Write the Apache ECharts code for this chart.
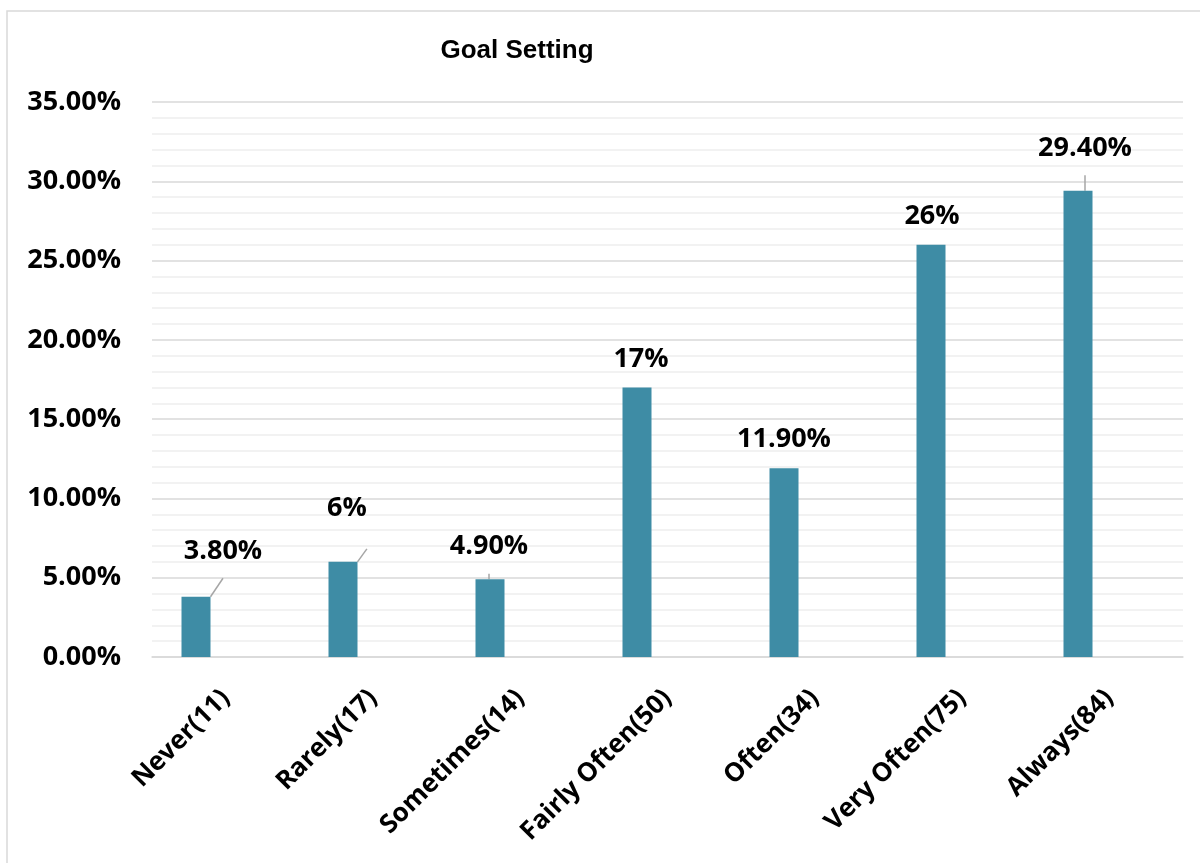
<!DOCTYPE html>
<html>
<head>
<meta charset="utf-8">
<script src="https://cdn.jsdelivr.net/npm/echarts@6/dist/echarts.min.js"></script>
<style>
  html, body { margin: 0; padding: 0; background: #ffffff; }
  #chart { width: 1200px; height: 863px; }
</style>
</head>
<body>
<div id="chart"></div>
<script>
// Response categories (with respondent counts) and their share in percent
const categories = ['Never(11)', 'Rarely(17)', 'Sometimes(14)', 'Fairly Often(50)', 'Often(34)', 'Very Often(75)', 'Always(84)'];
const shares = [3.8, 6, 4.9, 17, 11.9, 26, 29.4];
const valueLabels = ['3.80%', '6%', '4.90%', '17%', '11.90%', '26%', '29.40%'];
const yTicks = [0, 5, 10, 15, 20, 25, 30, 35];

// Label displacement for the callouts that use a leader line: [dx, dy, leader]
const labelShift = [[27, -17, true], [4, -25, true], [-1, -4, true], [4, 0, false], [0, 0, false], [1, 0, false], [7, -14, true]];

const FONT = '"Open Sans", "DejaVu Sans", sans-serif';
const GRID_TOP = 102, GRID_H = 555;

const chart = echarts.init(document.getElementById('chart'), null, { renderer: 'canvas' });

const barData = shares.map((v, i) => ({
  value: v,
  label: { offset: [labelShift[i][0], labelShift[i][1]] },
  labelLine: { show: labelShift[i][2] }
}));

chart.setOption({
  animation: false,
  backgroundColor: '#ffffff',
  graphic: [{
    type: 'rect',
    shape: { x: 7, y: 11, width: 1220, height: 900 },
    style: { fill: 'none', stroke: '#d9d9d9', lineWidth: 1.5 },
    silent: true, z: -10
  }],
  title: {
    text: 'Goal Setting',
    left: 512, top: 33, textAlign: 'center',
    textStyle: { fontFamily: '"Liberation Sans", Arial, sans-serif', fontWeight: 'bold', fontSize: 26, color: '#000' }
  },
  grid: [
    { left: 122.5, width: 1029, top: GRID_TOP, height: GRID_H },
    { left: 152, width: 1031, top: GRID_TOP, height: GRID_H }
  ],
  xAxis: [
    { type: 'category', gridIndex: 0, data: categories, show: false },
    {
      type: 'category', gridIndex: 1, data: categories,
      axisLine: { lineStyle: { color: '#d9d9d9', width: 1.5 } },
      axisTick: { show: false },
      axisLabel: {
        rotate: 45, margin: 37, interval: 0,
        fontFamily: FONT, fontWeight: 'bold', fontSize: 26, color: '#000'
      }
    }
  ],
  yAxis: [
    { type: 'value', gridIndex: 0, min: 0, max: 35, interval: 5, show: false },
    {
      type: 'value', gridIndex: 1, min: 0, max: 35, interval: 5,
      axisLine: { show: false },
      axisTick: { show: false },
      axisLabel: {
        margin: 31,
        fontFamily: FONT, fontWeight: 'bold', fontSize: 27, color: '#000',
        formatter: v => (yTicks.indexOf(v) >= 0 ? v.toFixed(2) + '%' : '')
      },
      splitLine: { lineStyle: { color: '#d9d9d9', width: 1.5 } },
      minorTick: { show: false, splitNumber: 5 },
      minorSplitLine: { show: true, lineStyle: { color: '#eeeeee', width: 1.5 } }
    }
  ],
  series: [{
    type: 'bar',
    xAxisIndex: 0, yAxisIndex: 0,
    barWidth: 29,
    itemStyle: { color: '#3e8ca5' },
    data: barData,
    label: {
      show: true, position: 'top', distance: 15,
      fontFamily: FONT, fontWeight: 'bold', fontSize: 27, color: '#000',
      formatter: p => valueLabels[p.dataIndex]
    },
    labelLine: { lineStyle: { color: '#a6a6a6', width: 1.5 } }
  }]
});
</script>
</body>
</html>
